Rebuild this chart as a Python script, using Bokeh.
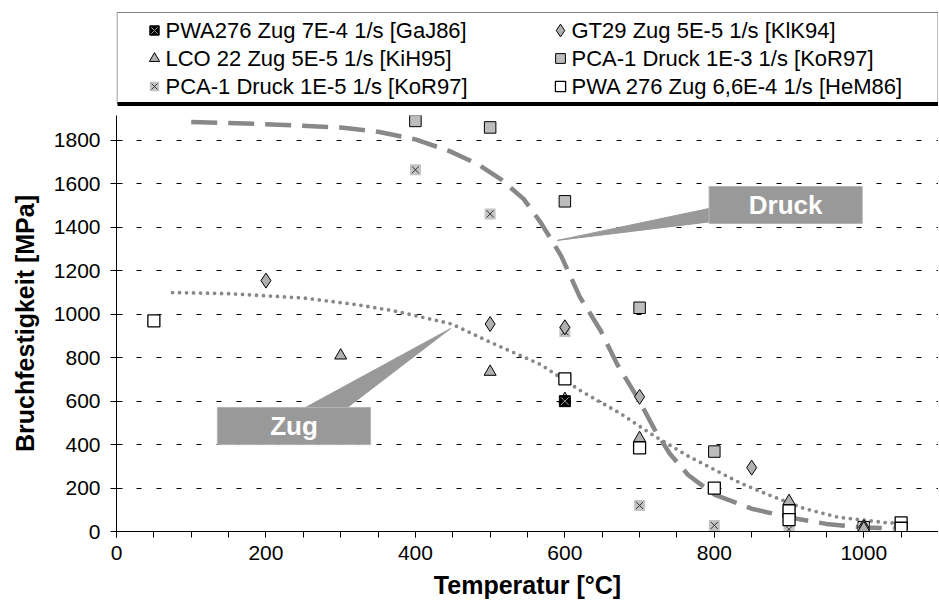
from bokeh.plotting import figure
from bokeh.models import Range1d, FixedTicker, BoxAnnotation, PolyAnnotation, Label
from bokeh.layouts import column
from bokeh.embed import file_html
from bokeh.resources import INLINE
from bokeh.core.properties import value

FONT = "Liberation Sans"

# ---------------- data ----------------
gaj_T = [600]
gaj_S = [600]
klk_T = [200, 500, 600, 700, 850, 1000]
klk_S = [1155, 955, 940, 620, 294, 20]
kih_T = [300, 500, 600, 700, 900, 1000]
kih_S = [810, 735, 610, 430, 140, 15]
kor3_T = [400, 500, 600, 700, 800, 900, 1000]
kor3_S = [1890, 1860, 1520, 1030, 368, 90, 20]
kor5_T = [400, 500, 600, 700, 800, 900, 1000]
kor5_S = [1665, 1462, 920, 120, 28, 10, 14]
hem_T = [50, 600, 700, 800, 900, 900, 1050, 1050]
hem_S = [970, 703, 385, 200, 95, 55, 40, 15]

druck_T = [100, 200, 300, 350, 400, 445, 483, 515, 545, 568, 595, 620, 648, 670,
           700, 720, 740, 765, 800, 850, 900, 950, 1000, 1040]
druck_S = [1885, 1875, 1860, 1840, 1805, 1752, 1692, 1620, 1530, 1421, 1269, 1080, 924, 770,
           600, 470, 360, 260, 170, 105, 65, 35, 18, 14]
zug_T = [75, 150, 250, 320, 371, 448, 505, 568, 621, 675, 715, 764, 836, 885, 920, 965, 1029, 1045]
zug_S = [1100, 1095, 1075, 1045, 1016, 956, 864, 768, 648, 542, 450, 349, 221, 152, 106, 66, 41, 38]

x_ticks = [0, 200, 400, 600, 800, 1000]
x_minor = list(range(0, 1101, 50))
y_ticks = [0, 200, 400, 600, 800, 1000, 1200, 1400, 1600, 1800]

legend_labels = [
    "PWA276 Zug 7E-4 1/s [GaJ86]",
    "GT29 Zug 5E-5 1/s [KlK94]",
    "LCO 22 Zug 5E-5 1/s [KiH95]",
    "PCA-1 Druck 1E-3 1/s [KoR97]",
    "PCA-1 Druck 1E-5 1/s [KoR97]",
    "PWA 276 Zug 6,6E-4 1/s [HeM86]",
]

# callouts (data coordinates)
druck_box = dict(left=793, right=998, bottom=1418, top=1588)
druck_wedge_x = [793, 793, 590]
druck_wedge_y = [1487, 1425, 1340]
zug_box = dict(left=135, right=340, bottom=400, top=571)
zug_wedge_x = [253, 309, 447]
zug_wedge_y = [571, 571, 934]

GRAY = "#888888"
BOXGRAY = "#999999"


def draw_series(p, key, xs, ys, big=True):
    s = 1.0 if big else 0.85
    if key == "gaj":
        p.scatter(xs, ys, marker="square", size=11 * s, fill_color="black", line_color="black")
        p.scatter(xs, ys, marker="x", size=11 * s, line_color="#a0a0a0", line_width=1)
    elif key == "klk":
        p.scatter(xs, ys, marker="diamond", size=15 * s, fill_color="#b0b0b0", line_color="black", line_width=1)
    elif key == "kih":
        p.scatter(xs, ys, marker="triangle", size=12 * s, fill_color="#b0b0b0", line_color="black", line_width=1)
    elif key == "kor3":
        p.scatter(xs, ys, marker="square", size=11.5 * s, fill_color="#bdbdbd", line_color="black", line_width=1)
    elif key == "kor5":
        p.scatter(xs, ys, marker="square", size=11 * s, fill_color="#c4c4c4", line_color=None)
        p.scatter(xs, ys, marker="x", size=10 * s, line_color="#333333", line_width=1)
    elif key == "hem":
        p.scatter(xs, ys, marker="square", size=12 * s, fill_color="white", line_color="black", line_width=1.3)


W = 938
LEFT = 116

# ---------------- legend figure (page-pixel coordinates) ----------------
leg = figure(width=W, height=108, x_range=Range1d(LEFT, W), y_range=Range1d(108, 0),
             output_backend="svg", toolbar_location=None,
             min_border_left=LEFT, min_border_right=0, min_border_top=0, min_border_bottom=0)
leg.axis.visible = False
leg.grid.visible = False
leg.outline_line_color = None
leg.quad(left=[116.5], right=[937.5], top=[12], bottom=[103], fill_color="white",
         line_color="#808080", line_width=1)
leg.quad(left=[117], right=[938], top=[101.5], bottom=[105.5], fill_color="black", line_color=None)

keys = ["gaj", "klk", "kih", "kor3", "kor5", "hem"]
col_mx = [154, 560]
col_tx = [165, 571]
row_y = [30, 58, 86]
for i, (k, lab) in enumerate(zip(keys, legend_labels)):
    c = i % 2
    r = i // 2
    draw_series(leg, k, [col_mx[c]], [row_y[r]], big=False)
    leg.text(x=[col_tx[c]], y=[row_y[r]], text=[lab], text_font=value(FONT),
             text_font_size="22px", text_baseline="middle", text_align="left",
             text_color="black")

# ---------------- main figure ----------------
p = figure(width=W, height=505, x_range=Range1d(0, 1100), y_range=Range1d(0, 1915),
           output_backend="svg", toolbar_location=None,
           min_border_left=LEFT, min_border_right=0, min_border_top=7, min_border_bottom=82)
p.outline_line_color = None
p.background_fill_color = "white"

p.xgrid.visible = False
p.ygrid.ticker = FixedTicker(ticks=y_ticks[1:])
p.ygrid.grid_line_color = "black"
p.ygrid.grid_line_dash = "5 15"
p.ygrid.grid_line_width = 1

p.xaxis.ticker = FixedTicker(ticks=x_ticks, minor_ticks=x_minor)
p.yaxis.ticker = FixedTicker(ticks=y_ticks)
for ax in (p.xaxis[0], p.yaxis[0]):
    ax.axis_line_color = "black"
    ax.major_tick_line_color = "black"
    ax.minor_tick_line_color = "black"
    ax.major_label_text_font = FONT
    ax.major_label_text_font_size = "21px"
    ax.major_label_text_color = "black"
    ax.axis_label_text_font = FONT
    ax.axis_label_text_font_size = "25px"
    ax.axis_label_text_font_style = "bold"
    ax.axis_label_text_color = "black"
p.xaxis.major_tick_in = 0
p.xaxis.major_tick_out = 6
p.xaxis.minor_tick_in = 0
p.xaxis.minor_tick_out = 6
p.yaxis.major_tick_in = 6
p.yaxis.major_tick_out = 6
p.yaxis.minor_tick_line_color = None
p.xaxis.axis_label = "Temperatur [°C]"
p.yaxis.axis_label = "Bruchfestigkeit [MPa]"
p.xaxis.major_label_standoff = 8
p.yaxis.major_label_standoff = 10
p.xaxis.axis_label_standoff = 8
p.yaxis.axis_label_standoff = 12

# trend lines
p.line(druck_T, druck_S, line_color=GRAY, line_width=4.5, line_dash="26 11")
p.line(zug_T, zug_S, line_color=GRAY, line_width=3.8, line_dash="0 7", line_cap="round")

# callouts
for box, wx, wy, txt in ((druck_box, druck_wedge_x, druck_wedge_y, "Druck"),
                         (zug_box, zug_wedge_x, zug_wedge_y, "Zug")):
    p.add_layout(PolyAnnotation(xs=wx, ys=wy, fill_color=BOXGRAY, fill_alpha=1,
                                line_color=BOXGRAY, line_alpha=1))
    p.add_layout(BoxAnnotation(left=box["left"], right=box["right"], bottom=box["bottom"],
                               top=box["top"], fill_color=BOXGRAY, fill_alpha=1,
                               line_color="#b3b3b3", line_alpha=1))
    p.add_layout(Label(x=(box["left"] + box["right"]) / 2, y=(box["bottom"] + box["top"]) / 2,
                       text=txt, text_align="center", text_baseline="middle",
                       text_color="white", text_font=FONT, text_font_style="bold",
                       text_font_size="26px"))

# data points
draw_series(p, "kor3", kor3_T, kor3_S)
draw_series(p, "kor5", kor5_T, kor5_S)
draw_series(p, "klk", klk_T, klk_S)
draw_series(p, "hem", hem_T, hem_S)
draw_series(p, "kih", kih_T, kih_S)
draw_series(p, "gaj", gaj_T, gaj_S)

layout = column(leg, p, spacing=0)
open("out.html", "w").write(file_html(layout, INLINE))
